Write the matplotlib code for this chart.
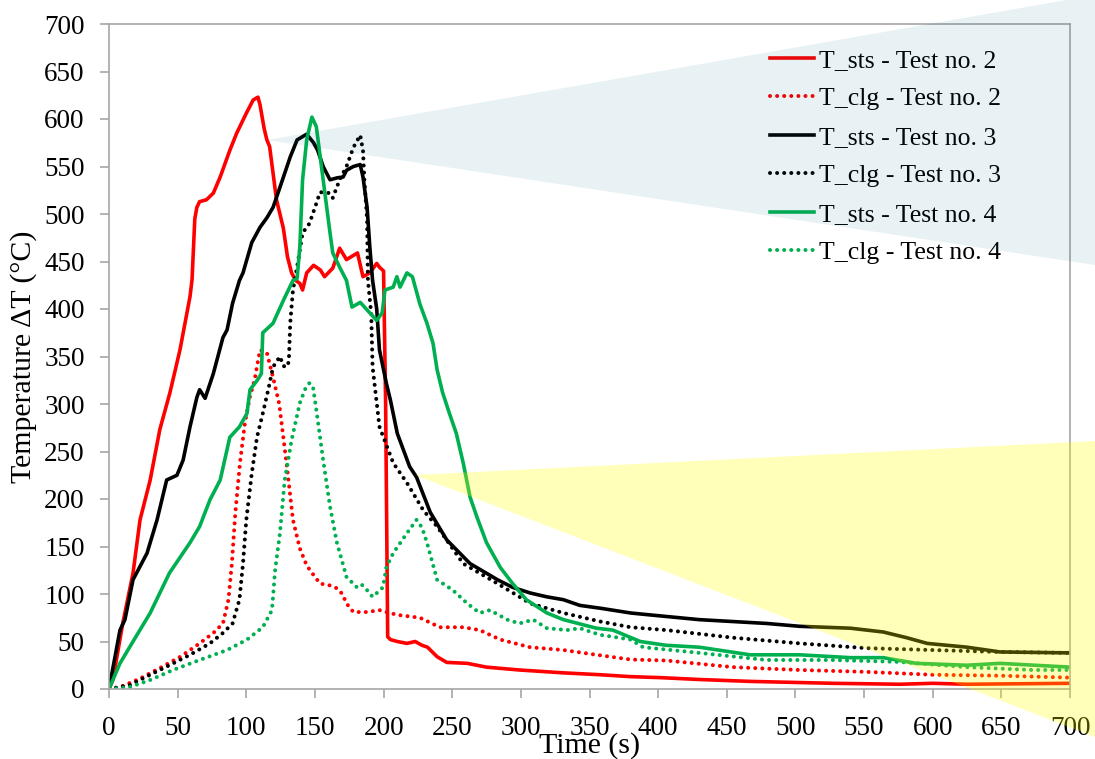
import matplotlib
matplotlib.use("Agg")
import matplotlib.pyplot as plt
from matplotlib.patches import Polygon

# ================== data ==================
x_sts2 = [0, 2.9, 10, 17.5, 22.6, 30, 37, 44.4, 51.7, 59, 60.5, 62.5, 64, 66, 71, 76, 81, 88, 93,
          100, 105, 108.5, 110, 113, 115, 117, 122, 127, 130, 133, 136, 139, 141, 144, 149, 154,
          157, 163, 168, 173, 181, 185, 190, 195, 197, 200, 201.5, 203, 205, 210, 217, 223, 228,
          232, 239, 246, 261, 275, 299, 331, 358, 380, 401, 430, 467, 527, 576, 600, 625, 700]
y_sts2 = [0, 10, 69, 122, 178, 220, 273, 312, 357, 413, 431, 495, 507, 513, 515, 522, 539, 567, 585,
          606, 620, 623, 615, 590, 578, 571, 515, 485, 455, 438, 430, 427, 420, 438, 446, 441,
          434, 443, 464, 452, 459, 434, 438, 448, 444, 440, 300, 55, 52, 50, 48, 50, 46,
          44, 34, 28, 27, 23, 20, 17, 15, 13, 12, 10, 8, 6, 5, 6, 5, 6]

x_clg2 = [0, 8, 22.6, 37, 52, 66, 76, 83, 87, 89.5, 92, 95.4, 99, 102.7, 106, 110, 115, 119.5, 124,
          129.6, 134, 139, 144, 149, 153.7, 161, 166, 170, 173, 178, 188, 197, 210, 226.5, 241,
          258, 270, 285, 306.6, 331, 355, 380, 406, 454.5, 503, 552, 600, 649, 700]
y_clg2 = [0, 2, 11, 22, 34, 48, 59, 69, 94, 132, 185, 238, 280, 308, 325, 357, 354, 328, 300,
          234, 178, 148, 130, 120, 111, 109, 106, 100, 90, 81, 81, 83, 78, 75, 65,
          65, 62, 52, 44, 41, 36, 31, 30, 23, 20, 18, 15, 14, 12]

x_sts3 = [0, 8, 11.6, 17.5, 27.7, 35, 42, 49.5, 54, 59, 64, 66, 70, 76, 83, 86, 90, 95, 97.6, 104,
          110, 115, 119.5, 124.5, 132, 137, 144, 149, 152, 156, 161, 166, 170.6, 173, 178, 183,
          185, 188, 190, 192, 195, 197, 202, 205, 210, 219, 224, 234, 246, 263, 283, 294, 307,
          319, 331, 343, 358, 380, 394, 430, 479, 503, 540, 564, 581, 596, 625, 649, 700]
y_sts3 = [0, 62, 73, 115, 143, 178, 220, 225, 241, 276, 307, 315, 306, 332, 370, 378, 406, 430, 438, 470,
          486, 496, 507, 528, 560, 578, 584, 575, 567, 550, 536, 538, 539, 546, 550, 552,
          539, 507, 465, 430, 400, 357, 322, 304, 269, 234, 223, 186, 157, 132, 115, 107, 101,
          97, 94, 88, 85, 80, 78, 73, 69, 66, 64, 60, 54, 48, 44, 39, 38]

x_clg3 = [0, 15, 30, 44, 59, 73.5, 83, 90, 95, 97.6, 100, 104, 107.8, 112, 116, 119.5, 124.5, 127,
          129.6, 131, 132, 134, 137, 141, 146, 151, 153.7, 161, 163, 168, 173, 178, 183, 185,
          186, 188, 188.6, 191, 192, 197, 207, 217, 229, 239, 258, 283, 307, 331, 358, 380,
          406, 454.5, 503, 552, 600, 649, 700]
y_clg3 = [0, 4, 15, 25, 36, 48, 59, 69, 94, 132, 178, 227, 265, 290, 315, 339, 350, 340,
          339, 345, 385, 420, 444, 480, 490, 511, 523, 522, 517, 536, 550, 570, 583, 567,
          536, 494, 430, 395, 339, 276, 238, 217, 188, 171, 132, 111, 90, 80, 71, 65,
          62, 54, 48, 43, 41, 39, 38]

x_sts4 = [0, 8, 15, 30, 44, 59, 66, 73.5, 81, 88, 95, 100.5, 102.7, 108, 111, 112, 119.5, 127, 134,
          137, 139, 141, 144, 147.8, 151, 156, 161, 163, 168, 173, 177, 183, 188, 195, 199, 201,
          207, 209.7, 212, 217, 221, 226.5, 231.6, 236, 239, 243, 248, 253, 258, 263, 268, 275,
          285, 294, 304, 319, 331, 355, 367, 387, 406, 430, 467, 503, 540, 564, 588, 625, 649, 700]
y_sts4 = [0, 27, 44, 80, 122, 154, 171, 199, 220, 265, 276, 290, 315, 325, 332, 375, 385, 409, 430,
          432, 465, 536, 578, 602, 592, 536, 480, 459, 444, 430, 402, 407, 399, 388, 396, 420,
          423, 434, 423, 438, 434, 405, 385, 364, 336, 312, 290, 269, 238, 202, 181, 154,
          128, 111, 94, 80, 73, 64, 62, 50, 46, 44, 36, 36, 33, 33, 27, 25, 27, 23]

x_clg4 = [0, 15, 30, 46.6, 66, 86, 100.5, 112, 118.7, 121, 124.5, 128, 133, 139, 143, 146, 148.6,
          151, 156, 161, 166, 173, 180.6, 184, 188, 192, 199.6, 202, 207, 217, 224, 228, 231.6,
          239, 250.5, 261, 270, 277.5, 290, 299, 309, 319, 333.6, 343, 357.6, 367, 380, 389,
          430, 479, 527, 576, 625, 673, 700]
y_clg4 = [0, 2, 9.5, 20, 30.5, 41, 52, 65, 83, 125, 164, 220, 262, 301, 316, 322, 318,
          294, 241, 192, 154, 118, 107, 110, 104, 97, 107, 128, 143, 164, 178, 170, 154,
          115, 104, 90, 80, 83, 73, 69, 73, 64, 62, 64, 57, 55, 52, 44,
          38, 30.5, 30.5, 28.5, 23, 20, 20]

series = [
    (x_sts2, y_sts2, "T_sts - Test no. 2", "#FF0000", "solid"),
    (x_clg2, y_clg2, "T_clg - Test no. 2", "#FF0000", "dotted"),
    (x_sts3, y_sts3, "T_sts - Test no. 3", "#000000", "solid"),
    (x_clg3, y_clg3, "T_clg - Test no. 3", "#000000", "dotted"),
    (x_sts4, y_sts4, "T_sts - Test no. 4", "#00B050", "solid"),
    (x_clg4, y_clg4, "T_clg - Test no. 4", "#00B050", "dotted"),
]

ticks = list(range(0, 701, 50))

# ================== figure ==================
plt.rcParams['font.family'] = ['Liberation Serif', 'DejaVu Serif']
W, H = 1095, 759
fig = plt.figure(figsize=(W / 100, H / 100), dpi=100)
ax = fig.add_axes([109 / W, 1 - 689 / H, (1070 - 109) / W, (689 - 24) / H])

for xs, ys, label, color, style in series:
    if style == "solid":
        ax.plot(xs, ys, color=color, lw=2.6, label=label, solid_joinstyle="round")
    else:
        # round dots spaced like the original dotted lines
        ax.plot(xs, ys, color=color, lw=2.9, linestyle=(0, (0.01, 1.75)),
                dash_capstyle="round", label=label)

ax.set_xlim(0, 700)
ax.set_ylim(0, 700)
ax.set_xticks(ticks)
ax.set_yticks(ticks)
for sp in ax.spines.values():
    sp.set_color("#A6A6A6")
    sp.set_linewidth(1.2)
ax.tick_params(axis="both", direction="out", length=6.5, width=1.2, color="#A6A6A6",
               labelsize=19.5, labelcolor="black")
ax.tick_params(axis="x", pad=13)
ax.tick_params(axis="y", pad=11)

fig.text(590 / W, 1 - 753 / H, "Time (s)", ha="center", va="baseline", fontsize=21.5)
fig.text(24 / W, 1 - 357 / H, "Temperature \u0394T (\u00b0C)", ha="center", va="center",
         rotation=90, fontsize=21.5)

leg = ax.legend(loc="upper left", bbox_to_anchor=(770 / W, 1 - 49 / H),
                bbox_transform=fig.transFigure, frameon=False, fontsize=18.5,
                handlelength=1.7, handletextpad=0.2, labelspacing=0.6,
                borderpad=0, borderaxespad=0)

# highlight wedges laid over the chart
teal = Polygon([(267 / W, 1 - 140 / H), (1.0, 1 + 5 / H), (1.0, 1 - 265 / H)],
               closed=True, transform=fig.transFigure, facecolor="#006E82",
               edgecolor="none", alpha=0.09, zorder=5)
yellow = Polygon([(415 / W, 1 - 475 / H), (1.0, 1 - 441 / H), (1.0, 1 - 737 / H)],
                 closed=True, transform=fig.transFigure, facecolor="#FFFF00",
                 edgecolor="none", alpha=0.27, zorder=5)
fig.add_artist(teal)
fig.add_artist(yellow)

fig.savefig("out.png", dpi=100)
